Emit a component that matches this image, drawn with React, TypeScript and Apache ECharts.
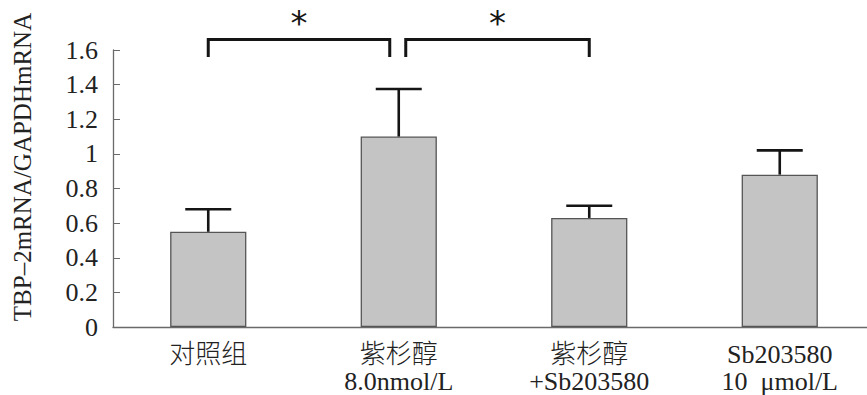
import React, { useEffect, useRef } from "react";
import * as echarts from "echarts";

const categories = ["对照组", "紫杉醇\n8.0nmol/L", "紫杉醇\n+Sb203580", "Sb203580\n10  μmol/L"];
const meanValues = [0.55, 1.1, 0.63, 0.88];
const errorTops = [0.68, 1.375, 0.7, 1.02];
const yTicks = [0, 0.2, 0.4, 0.6, 0.8, 1, 1.2, 1.4, 1.6];
// significance brackets: [fromIndex, toIndex, label]
const brackets: [number, number, string][] = [
  [0, 1, "*"],
  [1, 2, "*"],
];
const yAxisTitle = "TBP–2mRNA/GAPDHmRNA";

const SERIF = "'Liberation Serif', 'Times New Roman', 'Noto Sans CJK SC', serif";

export default function App() {
  const ref = useRef<HTMLDivElement>(null);
  useEffect(() => {
    if (!ref.current) return;
    const chart = echarts.init(ref.current, undefined, { renderer: "svg" });
    chart.setOption({
      animation: false,
      backgroundColor: "#ffffff",
      grid: {
        left: 113,
        top: 50,
        width: 762,
        bottom: 68,
        containLabel: false,
        outerBoundsMode: "none",
      },
      xAxis: {
        type: "category",
        data: categories,
        axisLine: { lineStyle: { color: "#6a6a6a", width: 1.3 } },
        axisTick: { inside: true, length: 5, lineStyle: { color: "#6a6a6a" } },
        axisLabel: {
          margin: 14,
          fontFamily: SERIF,
          fontSize: 26,
          fontWeight: 300,
          lineHeight: 27,
          color: "#222",
        },
      },
      yAxis: {
        type: "value",
        min: 0,
        max: yTicks[yTicks.length - 1],
        interval: 0.2,
        axisLine: { show: true, lineStyle: { color: "#6a6a6a", width: 1.3 } },
        axisTick: { show: true, inside: true, length: 7, lineStyle: { color: "#6a6a6a" } },
        splitLine: { show: false },
        axisLabel: {
          margin: 15,
          fontFamily: SERIF,
          fontSize: 26,
          color: "#222",
          formatter: (v: number) => String(+v.toFixed(1)),
        },
      },
      graphic: [
        {
          type: "text",
          x: 22,
          y: 167,
          rotation: Math.PI / 2,
          style: {
            text: yAxisTitle,
            fontFamily: SERIF,
            fontSize: 25,
            fill: "#222",
            align: "center",
            verticalAlign: "middle",
          },
        },
      ],
      series: [
        {
          type: "bar",
          data: meanValues,
          barWidth: "40%",
          itemStyle: { color: "#c4c4c4", borderColor: "#555", borderWidth: 1.3 },
          z: 2,
        },
        {
          type: "custom",
          data: meanValues.map((v, i) => [i, v, errorTops[i]]),
          z: 3,
          renderItem: (params: any, api: any) => {
            const i = api.value(0);
            const p0 = api.coord([i, api.value(1)]);
            const p1 = api.coord([i, api.value(2)]);
            const style = { stroke: "#151515", lineWidth: 2.6 };
            return {
              type: "group",
              children: [
                { type: "line", shape: { x1: p0[0], y1: p0[1], x2: p1[0], y2: p1[1] }, style },
                { type: "line", shape: { x1: p1[0] - 23, y1: p1[1], x2: p1[0] + 23, y2: p1[1] }, style },
              ],
            };
          },
        },
        {
          type: "custom",
          data: brackets.map((b) => [b[0], b[1]]),
          z: 4,
          clip: false,
          renderItem: (params: any, api: any) => {
            const a = api.value(0);
            const b = api.value(1);
            const idx = params.dataIndex;
            const pa = api.coord([a, 0]);
            const pb = api.coord([b, 0]);
            let x1 = pa[0];
            let x2 = pb[0];
            if (idx === 0) x2 -= 9;
            else x1 += 7;
            const yTop = 39.5;
            const yBot = 57;
            const style = { stroke: "#151515", lineWidth: 3, fill: "none" };
            return {
              type: "group",
              children: [
                {
                  type: "polyline",
                  shape: { points: [[x1, yBot], [x1, yTop], [x2, yTop], [x2, yBot]] },
                  style,
                },
                {
                  type: "text",
                  x: (x1 + x2) / 2,
                  y: 23,
                  style: {
                    text: brackets[idx][2],
                    fontFamily: "'DejaVu Sans', sans-serif",
                    fontSize: 34,
                    fill: "#151515",
                    align: "center",
                    verticalAlign: "middle",
                  },
                },
              ],
            };
          },
        },
      ],
    });
    return () => chart.dispose();
  }, []);
  return (
    <div
      ref={ref}
      style={{ position: "absolute", left: 0, top: 0, width: 867, height: 395 }}
    />
  );
}
